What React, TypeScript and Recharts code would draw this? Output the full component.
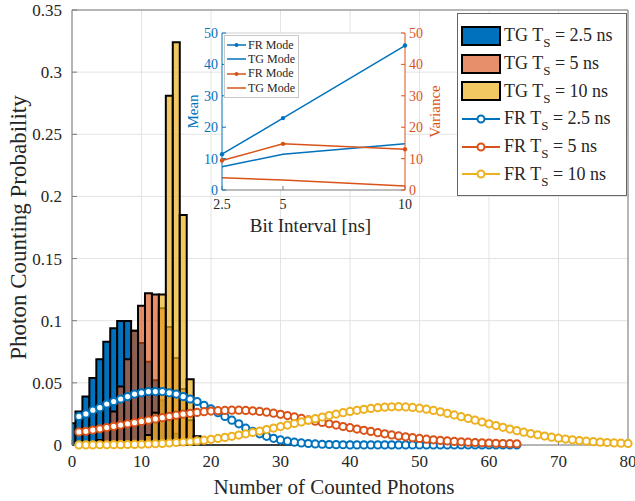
import React from "react";
import {
  ComposedChart, Bar, Line, XAxis, YAxis, CartesianGrid, Legend, Label, ReferenceLine,
} from "recharts";

const FONT = "'Liberation Serif', 'Times New Roman', Times, serif";
const BLUE = "#0072BD";
const ORANGE = "#D95319";
const YELLOW = "#EDB120";
const AXIS = "#7a7a7a";
const TEXT = "#262626";

// TG histograms, index = number of counted photons (bin 0, 1, 2 ...)
const tg25 = [0.0174, 0.027, 0.039, 0.054, 0.069, 0.083, 0.094, 0.0997, 0.0997, 0.092, 0.082, 0.067, 0.052, 0.036, 0.02, 0.009, 0.003];
const tg5 = [0, 0, 0, 0.001, 0.004, 0.012, 0.027, 0.047, 0.069, 0.092, 0.112, 0.122, 0.121, 0.11, 0.095, 0.07, 0.045, 0.02, 0.005];
const tg10 = [0, 0, 0, 0, 0, 0, 0, 0, 0, 0, 0.002, 0.008, 0.026, 0.121, 0.281, 0.324, 0.185, 0.053, 0.007];
// empty TG bins still draw their black edge along zero
const EMPTY_BINS_END = 32.5;

// FR curves, first point at 1 counted photon
const FR_START = 1;
const fr25 = [
  0.023, 0.025, 0.028, 0.03, 0.033, 0.035, 0.037, 0.039, 0.041, 0.042,
  0.043, 0.043, 0.043, 0.042, 0.041, 0.039, 0.037, 0.035, 0.032, 0.029,
  0.026, 0.023, 0.02, 0.017, 0.0135, 0.011, 0.009, 0.007, 0.0054, 0.0041,
  0.0031, 0.0023, 0.0017, 0.0012, 0.0009, 0.0006, 0.0004, 0.0003, 0.0002, 0.0001,
  0.0001, 0.0001, 0.0001, 0.0001, 0.0001, 0.0001, 0.0001, 0.0001, 0.0001, 0.0001,
  0, 0, 0, 0, 0, 0, 0, 0, 0, 0,
  0, 0, 0, 0,
];
const fr5 = [
  0.0105, 0.011, 0.012, 0.013, 0.014, 0.015, 0.016, 0.017, 0.018, 0.019,
  0.02, 0.021, 0.022, 0.023, 0.024, 0.0248, 0.0255, 0.0262, 0.0268, 0.0273,
  0.0276, 0.0278, 0.028, 0.028, 0.0278, 0.0275, 0.027, 0.0264, 0.0256, 0.0247,
  0.0237, 0.0226, 0.0214, 0.0202, 0.0192, 0.0182, 0.0171, 0.016, 0.0149, 0.0139,
  0.0128, 0.0118, 0.0109, 0.0099, 0.009, 0.0081, 0.0073, 0.0066, 0.0059, 0.0053,
  0.0047, 0.0042, 0.0037, 0.0033, 0.0029, 0.0026, 0.0023, 0.002, 0.0018, 0.0016,
  0.0014, 0.0012, 0.0011, 0.001,
];
const fr10 = [
  0.0001, 0.0001, 0.0001, 0.0002, 0.0002, 0.0003, 0.0003, 0.0004, 0.0005, 0.0006,
  0.0008, 0.001, 0.0013, 0.0016, 0.002, 0.0024, 0.0028, 0.0033, 0.0039, 0.0046,
  0.0053, 0.0061, 0.007, 0.008, 0.009, 0.0101, 0.0112, 0.0124, 0.0136, 0.0148,
  0.016, 0.0173, 0.0186, 0.0199, 0.0212, 0.0225, 0.0237, 0.0249, 0.026, 0.027,
  0.0279, 0.0287, 0.0294, 0.03, 0.0304, 0.0307, 0.0308, 0.0306, 0.0302, 0.0296,
  0.0288, 0.0278, 0.0267, 0.0255, 0.0242, 0.0228, 0.0214, 0.02, 0.0185, 0.017,
  0.0156, 0.0142, 0.0128, 0.0115, 0.0103, 0.0092, 0.0082, 0.0072, 0.0063, 0.0055,
  0.0048, 0.0042, 0.0036, 0.0031, 0.0027, 0.0023, 0.002, 0.0017, 0.0015, 0.0013,
];

const xTicks = [0, 10, 20, 30, 40, 50, 60, 70, 80];
const yTicks = [0, 0.05, 0.1, 0.15, 0.2, 0.25, 0.3, 0.35];
const X_MAX = 80;

// inset: mean / variance vs bit interval
const bitInterval = [2.5, 5, 10];
const frMean = [11.4, 22.9, 46];
const tgMean = [7.4, 11.4, 14.7];
const frVar = [9.4, 14.7, 13.0];
const tgVar = [3.9, 3.2, 1.3];
const insetTicks = [0, 10, 20, 30, 40, 50];

const rows: any[] = [];
for (let x = 0; x <= X_MAX; x++) {
  rows.push({
    x,
    tg25: tg25[x],
    tg5: tg5[x],
    tg10: tg10[x],
    fr25: fr25[x - FR_START],
    fr5: fr5[x - FR_START],
    fr10: fr10[x - FR_START],
  });
}

const insetRows = bitInterval.map((t, i) => ({
  t, frMean: frMean[i], tgMean: tgMean[i], frVar: frVar[i], tgVar: tgVar[i],
}));

const histSeries = [
  { key: "tg25", axis: "b25", label: "2.5", color: BLUE, opacity: 1 },
  { key: "tg5", axis: "b5", label: "5", color: ORANGE, opacity: 0.65 },
  { key: "tg10", axis: "b10", label: "10", color: YELLOW, opacity: 0.7 },
];
const frSeries = [
  { key: "fr25", label: "2.5", color: BLUE },
  { key: "fr5", label: "5", color: ORANGE },
  { key: "fr10", label: "10", color: YELLOW },
];

function mix(hex: string, a: number) {
  const n = parseInt(hex.slice(1), 16);
  const c = [(n >> 16) & 255, (n >> 8) & 255, n & 255].map((v) => Math.round(v * a + 255 * (1 - a)));
  return `rgb(${c[0]},${c[1]},${c[2]})`;
}

const Ts = ({ mode, ts }: { mode: string; ts: string }) => (
  <span>
    {mode} T<sub style={{ fontSize: 13, verticalAlign: -6, lineHeight: 0 }}>S</sub> = {ts} ns
  </span>
);

const MainLegend = () => (
  <div style={{
    background: "#fff", border: "1px solid #666", padding: "8px 0 7px 3px",
    fontFamily: FONT, fontSize: 18, color: TEXT, width: 165,
  }}>
    {histSeries.map((s) => (
      <div key={s.key} style={{ display: "flex", alignItems: "center", height: 27.7 }}>
        <div style={{
          width: 40, height: 20, boxSizing: "border-box", border: "2px solid #000",
          background: mix(s.color, s.opacity), marginRight: 3,
        }} />
        <Ts mode="TG" ts={s.label} />
      </div>
    ))}
    {frSeries.map((s) => (
      <div key={s.key} style={{ display: "flex", alignItems: "center", height: 27.7 }}>
        <svg width={40} height={14} style={{ marginRight: 3 }}>
          <line x1={1} y1={7} x2={39} y2={7} stroke={s.color} strokeWidth={2} />
          <circle cx={20} cy={7} r={3.5} fill="#fff" stroke={s.color} strokeWidth={2} />
        </svg>
        <Ts mode="FR" ts={s.label} />
      </div>
    ))}
  </div>
);

const insetEntries = [
  { label: "FR Mode", color: BLUE, dot: true },
  { label: "TG Mode", color: BLUE, dot: false },
  { label: "FR Mode", color: ORANGE, dot: true },
  { label: "TG Mode", color: ORANGE, dot: false },
];

const InsetLegend = () => (
  <div style={{
    background: "#fff", border: "1px solid #c8c8c8", padding: "2px 3px 2px 2px",
    fontFamily: FONT, fontSize: 12, color: TEXT,
  }}>
    {insetEntries.map((e, i) => (
      <div key={i} style={{ display: "flex", alignItems: "center", height: 14.3 }}>
        <svg width={19} height={8} style={{ marginRight: 2 }}>
          <line x1={0} y1={4} x2={19} y2={4} stroke={e.color} strokeWidth={1.5} />
          {e.dot && <circle cx={9.5} cy={4} r={2} fill={e.color} />}
        </svg>
        {e.label}
      </div>
    ))}
  </div>
);

const tickFont = { fill: TEXT, fontSize: 17, fontFamily: FONT };
const insetFont = { fontSize: 14, fontFamily: FONT };

export default function App() {
  return (
    <div style={{
      position: "absolute", left: 0, top: 0, width: 635, height: 501,
      background: "#fff", fontFamily: FONT,
    }}>
      <style>{`.recharts-wrapper text, .recharts-wrapper tspan { font-family: 'Liberation Serif', 'Times New Roman', serif !important; }`}</style>
      <div style={{ position: "absolute", left: 0, top: 0 }}>
        <ComposedChart
          width={635} height={501} data={rows}
          margin={{ top: 9, right: 0, bottom: 0, left: 0 }}
          barCategoryGap={0} barGap={0}
        >
          <CartesianGrid xAxisId="main" yAxisId="left" stroke="#e3e3e3" />
          <XAxis
            xAxisId="main" type="number" dataKey="x" domain={[0, X_MAX]} ticks={xTicks} interval={0}
            height={56} stroke={AXIS} tickSize={-5} tickMargin={15} tick={tickFont}
          >
            <Label value="Number of Counted Photons" position="insideBottom" offset={7} dx={-16}
              fill={TEXT} fontSize={21} fontFamily={FONT} />
          </XAxis>
          <XAxis
            xAxisId="top" orientation="top" type="number" dataKey="x" domain={[0, X_MAX]} ticks={xTicks}
            interval={0} height={1} stroke={AXIS} tickSize={-5} tick={false}
          />
          {histSeries.map((s) => (
            <XAxis key={s.axis} xAxisId={s.axis} type="number" dataKey="x" domain={[0, X_MAX]}
              height={0} hide allowDataOverflow />
          ))}
          <YAxis
            yAxisId="left" type="number" domain={[0, 0.35]} ticks={yTicks} interval={0}
            width={72} stroke={AXIS} tickSize={-5} tickMargin={15} tick={tickFont}
          >
            <Label value="Photon Counting Probability" angle={-90} position="center" dx={-18}
              fill={TEXT} fontSize={23} fontFamily={FONT} />
          </YAxis>
          <YAxis
            yAxisId="right" orientation="right" type="number" domain={[0, 0.35]} ticks={yTicks}
            interval={0} width={7} stroke={AXIS} tickSize={-5} tick={false}
          />

          {histSeries.map((s) => (
            <Bar
              key={s.key} xAxisId={s.axis} yAxisId="left"
              dataKey={s.key} fill={s.color} fillOpacity={s.opacity}
              stroke="#000" strokeWidth={2} isAnimationActive={false}
            />
          ))}
          <ReferenceLine
            xAxisId="main" yAxisId="left"
            segment={[{ x: 0, y: 0 }, { x: EMPTY_BINS_END, y: 0 }]}
            stroke="#000" strokeWidth={2}
          />
          {frSeries.map((s) => (
            <Line
              key={s.key} xAxisId="main" yAxisId="left" dataKey={s.key}
              stroke={s.color} strokeWidth={2}
              dot={{ r: 3.6, fill: "#fff", stroke: s.color, strokeWidth: 2 }}
              activeDot={false} isAnimationActive={false}
            />
          ))}
          <Legend
            layout="vertical" align="center" verticalAlign="middle"
            wrapperStyle={{ left: 457, top: 13, width: 169 }}
            content={() => <MainLegend />}
          />
        </ComposedChart>
      </div>

      <div style={{ position: "absolute", left: 160, top: 20 }}>
        <ComposedChart
          width={290} height={220} data={insetRows}
          margin={{ top: 12, right: 0, bottom: 0, left: 0 }}
        >
          <CartesianGrid xAxisId="bit" yAxisId="mean" fill="#fff" horizontal={false} vertical={false} />
          <XAxis
            xAxisId="bit" type="number" dataKey="t" domain={[2.5, 10]} ticks={bitInterval} interval={0}
            height={50} stroke={AXIS} tickSize={-4} tickMargin={13} tick={{ ...insetFont, fill: TEXT }}
          >
            <Label value="Bit Interval [ns]" position="insideBottom" offset={8} dx={-3}
              fill={TEXT} fontSize={19} fontFamily={FONT} />
          </XAxis>
          <XAxis
            xAxisId="bitTop" orientation="top" type="number" dataKey="t" domain={[2.5, 10]}
            height={1} stroke="#d0d0d0" tick={false} tickLine={false}
          />
          <YAxis
            yAxisId="mean" type="number" domain={[0, 50]} ticks={insetTicks} interval={0}
            width={62} stroke={BLUE} tickSize={-4} tickMargin={8} tick={{ ...insetFont, fill: BLUE }}
          >
            <Label value="Mean" angle={-90} position="center" dx={2} fill={BLUE} fontSize={15} fontFamily={FONT} />
          </YAxis>
          <YAxis
            yAxisId="var" orientation="right" type="number" domain={[0, 50]} ticks={insetTicks} interval={0}
            width={45} stroke={ORANGE} tickSize={-4} tickMargin={8} tick={{ ...insetFont, fill: ORANGE }}
          >
            <Label value="Variance" angle={-90} position="center" dx={7} fill={ORANGE} fontSize={15} fontFamily={FONT} />
          </YAxis>
          <Line xAxisId="bit" yAxisId="mean" dataKey="frMean" stroke={BLUE} strokeWidth={1.5}
            dot={{ r: 2.2, fill: BLUE, stroke: BLUE, strokeWidth: 0 }} activeDot={false} isAnimationActive={false} />
          <Line xAxisId="bit" yAxisId="mean" dataKey="tgMean" stroke={BLUE} strokeWidth={1.5}
            dot={false} activeDot={false} isAnimationActive={false} />
          <Line xAxisId="bit" yAxisId="var" dataKey="frVar" stroke={ORANGE} strokeWidth={1.5}
            dot={{ r: 2.2, fill: ORANGE, stroke: ORANGE, strokeWidth: 0 }} activeDot={false} isAnimationActive={false} />
          <Line xAxisId="bit" yAxisId="var" dataKey="tgVar" stroke={ORANGE} strokeWidth={1.5}
            dot={false} activeDot={false} isAnimationActive={false} />
          <Legend
            layout="vertical" align="center" verticalAlign="middle"
            wrapperStyle={{ left: 64, top: 15, width: "auto" }}
            content={() => <InsetLegend />}
          />
        </ComposedChart>
      </div>
    </div>
  );
}
